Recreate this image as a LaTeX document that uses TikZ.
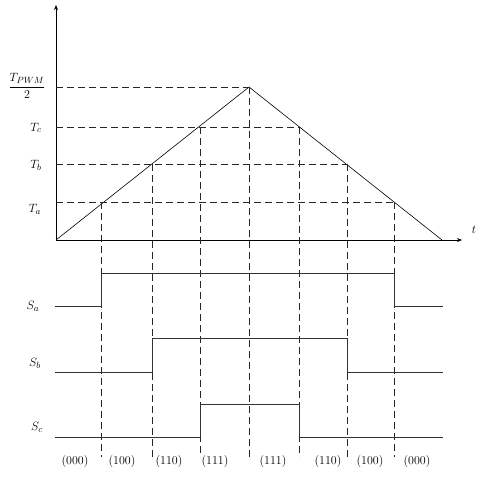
\documentclass[tikz,border=0pt]{standalone}
\usetikzlibrary{arrows.meta}
\tikzset{
axis/.style={line width=0.9pt, -{Stealth[length=5pt,width=4pt]}},
carrier/.style={line width=0.6pt},
guide/.style={line width=0.8pt, black!85, dash pattern=on 7pt off 4pt},
pulse/.style={line width=1pt, black!80},
lbl/.style={font=\fontsize{13}{15}\selectfont, inner sep=1pt},
state/.style={font=\fontsize{12}{14}\selectfont, inner sep=1pt}
}

\begin{document}
\begin{tikzpicture}[x=1pt,y=-1pt]
\useasboundingbox (0,0) rectangle (482,486);
% axes and carrier
\coordinate (O) at (56,240);
\coordinate (ytop) at (56,5);
\coordinate (tend) at (462,240);
\coordinate (peak) at (249,87);
\coordinate (end) at (442,240);
\draw[axis] (O) -- (ytop);
\draw[axis] (O) -- (tend);
\draw[carrier] (O) -- (peak) -- (end);
\node[lbl] (t) at (474,230) {$t$};
% levels and their crossings
\coordinate (yp) at (56,87);
\coordinate (yc) at (56,127);
\coordinate (yb) at (56,164);
\coordinate (ya) at (56,202);
\coordinate (a1) at (101,202);
\coordinate (b1) at (152,164);
\coordinate (c1) at (200,127);
\coordinate (c2) at (299,127);
\coordinate (b2) at (347,164);
\coordinate (a2) at (394,202);
\coordinate (bot) at (0,457);
\draw[guide] (yp) -- (peak);
\draw[guide] (yc) -- (c2);
\draw[guide] (yb) -- (b2);
\draw[guide] (ya) -- (a2);
\foreach \p in {a1,b1,c1,peak,c2,b2,a2}
  \draw[guide] (\p) -- (\p |- bot);
\node[lbl] (lp) at (27,86) {$\displaystyle\frac{T_{PWM}}{2}$};
\node[lbl] (lc) at (36,128) {$T_c$};
\node[lbl] (lb) at (36,165) {$T_b$};
\node[lbl] (la) at (35,209) {$T_a$};
% switching states
\coordinate (sa0) at (55,306);
\coordinate (sa1) at (443,306);
\coordinate (ha) at (0,273);
\coordinate (sb0) at (55,372);
\coordinate (sb1) at (443,372);
\coordinate (hb) at (0,338);
\coordinate (sc0) at (55,437);
\coordinate (sc1) at (443,437);
\coordinate (hc) at (0,404);
\draw[pulse] (sa0) -- (sa0 -| a1) -- (ha -| a1) -- (ha -| a2) -- (sa0 -| a2) -- (sa1);
\draw[pulse] (sb0) -- (sb0 -| b1) -- (hb -| b1) -- (hb -| b2) -- (sb0 -| b2) -- (sb1);
\draw[pulse] (sc0) -- (sc0 -| c1) -- (hc -| c1) -- (hc -| c2) -- (sc0 -| c2) -- (sc1);
\node[lbl] (sa) at (33,306) {$S_a$};
\node[lbl] (sb) at (35,363) {$S_b$};
\node[lbl] (sc) at (37,427) {$S_c$};
\foreach \x/\s [count=\i] in {75/000,122/100,169/110,215/111,273/111,328/110,370/100,417/000}
  \node[state] (v\i) at (\x,461) {(\s)};
\end{tikzpicture}
\end{document}
